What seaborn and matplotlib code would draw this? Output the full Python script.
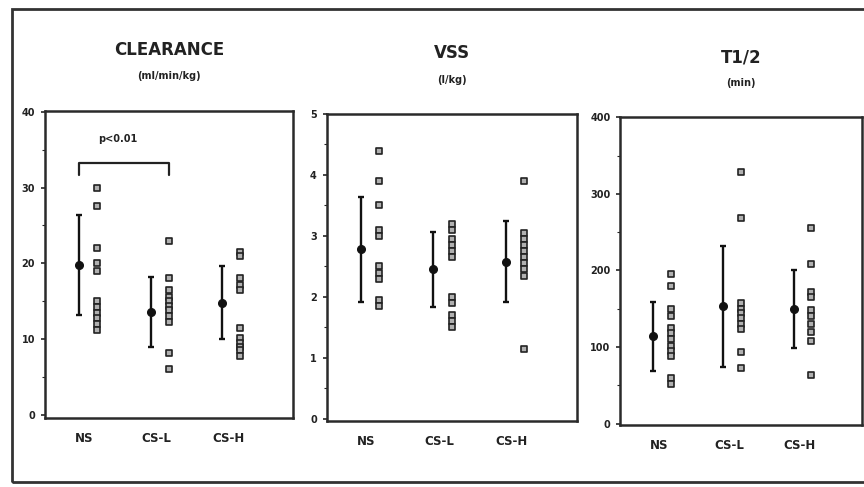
import numpy as np
import pandas as pd
import seaborn as sns
import matplotlib.pyplot as plt
from matplotlib.patches import Rectangle

groups = ["NS", "CS-L", "CS-H"]

# CLEARANCE (ml/min/kg)
cl_ns = [30, 27.5, 22, 20, 19, 15, 14.2, 13.5, 12.8, 12, 11.2]
cl_csl = [23, 18, 16.5, 15.5, 15, 14.3, 13.8, 13, 12.2, 8.2, 6]
cl_csh = [21.5, 21, 18, 17.2, 16.5, 11.5, 10.2, 9.5, 9, 8.5, 7.8]
cl_mean = [19.8, 13.6, 14.8]
cl_sd = [6.6, 4.6, 4.8]

# VSS (l/kg)
vss_ns = [4.4, 3.9, 3.5, 3.1, 3.0, 2.5, 2.4, 2.3, 1.95, 1.85]
vss_csl = [3.2, 3.1, 2.95, 2.85, 2.75, 2.65, 2.0, 1.9, 1.7, 1.6, 1.5]
vss_csh = [3.9, 3.05, 2.95, 2.85, 2.75, 2.65, 2.55, 2.45, 2.35, 1.15]
vss_mean = [2.78, 2.45, 2.58]
vss_sd = [0.86, 0.62, 0.66]

# T1/2 (min)
t_ns = [195, 180, 150, 140, 125, 118, 110, 102, 95, 88, 60, 52]
t_csl = [328, 268, 158, 150, 145, 138, 130, 124, 93, 73]
t_csh = [255, 208, 172, 166, 148, 140, 130, 120, 108, 64]
t_mean = [114, 153, 150]
t_sd = [45, 79, 51]

titles = ["CLEARANCE", "VSS", "T1/2"]
units = ["(ml/min/kg)", "(l/kg)", "(min)"]

sns.set_style("ticks")
plt.rcParams["font.family"] = ["DejaVu Sans"]

fig = plt.figure(figsize=(8.64, 4.87), dpi=100)
fig.patches.append(Rectangle((0.014, 0.01), 1.2, 0.972, transform=fig.transFigure,
                             fill=False, edgecolor="#333333", linewidth=2.0))

positions = [[0.052, 0.142, 0.287, 0.630],
             [0.378, 0.136, 0.290, 0.630],
             [0.718, 0.127, 0.280, 0.632]]
title_y = [50, 53, 58]
unit_y = [76, 80, 83]
panels = [
    (cl_ns, cl_csl, cl_csh, cl_mean, cl_sd, (-0.4, 40.1), [0, 10, 20, 30, 40], 5),
    (vss_ns, vss_csl, vss_csh, vss_mean, vss_sd, (-0.03, 5.0), [0, 1, 2, 3, 4, 5], 0.5),
    (t_ns, t_csl, t_csh, t_mean, t_sd, (-2, 400), [0, 100, 200, 300, 400], 50),
]

axes = []
for i, (pos, pan) in enumerate(zip(positions, panels)):
    a, b, c, mean, sd, ylim, yt, minor = pan
    ax = fig.add_axes(pos)
    axes.append(ax)
    df = pd.DataFrame({
        "grp": [0] * len(a) + [1] * len(b) + [2] * len(c),
        "val": a + b + c,
    })
    df["x"] = df["grp"] + 0.17
    sns.scatterplot(data=df, x="x", y="val", ax=ax, marker="s", s=16,
                    color="#b0b0b0", edgecolor="#222222", linewidth=1.2, zorder=3)
    ax.errorbar(np.arange(3) - 0.08, mean, yerr=sd, fmt="o", color="#111111",
                markersize=5.5, elinewidth=1.7, capsize=2, capthick=1.7, zorder=4)
    ax.set_xlim(-0.55, 2.9)
    ax.set_ylim(*ylim)
    ax.set_yticks(yt)
    ax.set_yticklabels([str(v) for v in yt], fontsize=7, fontweight="bold", color="#222222")
    ax.set_yticks(np.arange(0, ylim[1] + 0.01, minor), minor=True)
    ax.set_xticks([0, 1, 2])
    ax.set_xticklabels(groups, fontsize=8.5, fontweight="bold", color="#222222")
    ax.tick_params(axis="x", length=0, pad=10)
    ax.tick_params(axis="y", which="major", length=3, width=1.2, direction="out", pad=4)
    ax.tick_params(axis="y", which="minor", length=2, width=0.8, direction="out")
    ax.set_xlabel("")
    ax.set_ylabel("")
    for sp in ax.spines.values():
        sp.set_visible(True)
        sp.set_linewidth(1.8)
        sp.set_color("#2a2a2a")
    cx = pos[0] + pos[2] / 2
    fig.text(cx, 1 - title_y[i] / 487, titles[i], ha="center", va="center", fontsize=12,
             fontweight="bold", color="#222222")
    fig.text(cx, 1 - unit_y[i] / 487, units[i], ha="center", va="center", fontsize=7,
             fontweight="bold", color="#222222")

# significance bracket NS vs CS-L
ax = axes[0]
ax.plot([-0.08, -0.08, 1.17, 1.17], [31.6, 33.2, 33.2, 31.6], color="#222222", linewidth=1.6)
ax.text(0.46, 36.4, "p<0.01", ha="center", va="center", fontsize=7,
        fontweight="bold", color="#222222")

fig.savefig("out.png", dpi=100, facecolor="white")
